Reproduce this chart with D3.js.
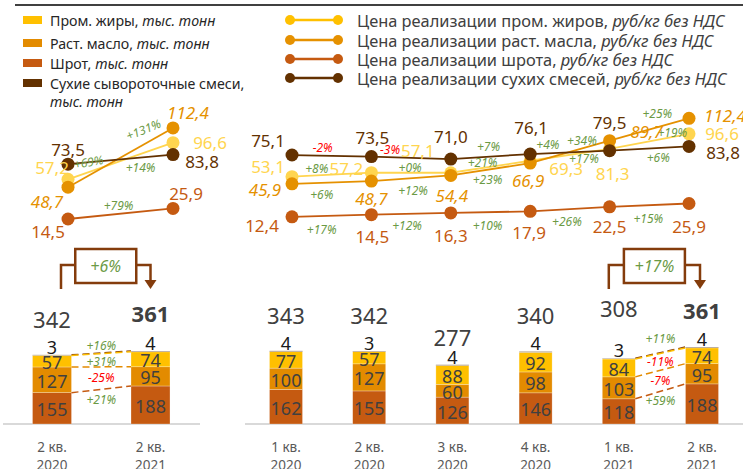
<!DOCTYPE html>
<html>
<head>
<meta charset="utf-8">
<script src="https://cdn.jsdelivr.net/npm/d3@7"></script>
<style>
  body { margin: 0; background: #fff; }
  svg { display: block; font-family: "Noto Sans", "Open Sans", sans-serif; }
</style>
</head>
<body>
<svg id="chart" width="743" height="469"></svg>
<script>
// --- data ---
const quarters = ['1 кв.|2020', '2 кв.|2020', '3 кв.|2020', '4 кв.|2020', '1 кв.|2021', '2 кв.|2021']
const compareIdx = [1, 5]   // 2 кв. 2020 vs 2 кв. 2021

const volShrot = [162, 155, 126, 146, 118, 188]
const volMaslo = [100, 127, 60, 98, 103, 95]
const volZhiry = [77, 57, 88, 92, 84, 74]
const volSmesi = [4, 3, 4, 4, 3, 4]
const volTotal = [343, 342, 277, 340, 308, 361]

const priceZhiry = [53.1, 57.2, 57.1, 69.3, 81.3, 96.6]
const priceMaslo = [45.9, 48.7, 54.4, 66.9, 89.7, 112.4]
const priceShrot = [12.4, 14.5, 16.3, 17.9, 22.5, 25.9]
const priceSmesi = [75.1, 73.5, 71.0, 76.1, 79.5, 83.8]

const chgZhiry = ['+8%', '+0%', '+21%', '+17%', '+19%']
const chgMaslo = ['+6%', '+12%', '+23%', '+34%', '+25%']
const chgShrot = ['+17%', '+12%', '+10%', '+26%', '+15%']
const chgSmesi = ['-2%', '-3%', '+7%', '+4%', '+6%']

const yoyPrice = { zhiry: '+69%', maslo: '+131%', shrot: '+79%', smesi: '+14%' }
const yoyVolLeft = ['+16%', '+31%', '-25%', '+21%']   // smesi, zhiry, maslo, shrot
const qoqVolRight = ['+11%', '-11%', '-7%', '+59%']
const totalChgLeft = '+6%'
const totalChgRight = '+17%'

const legendVol = ['Пром. жиры', 'Раст. масло', 'Шрот', 'Сухие сывороточные смеси,']
const legendPrice = ['Цена реализации пром. жиров, ', 'Цена реализации раст. масла, ',
  'Цена реализации шрота, ', 'Цена реализации сухих смесей, ']

// --- style ---
const GREEN = '#6B9A45', RED = '#FF0000', TXT = '#404040'
const colBar = { zhiry: '#FFC000', maslo: '#E38B00', shrot: '#C55A11', smesi: '#8B7358' }
const colLine = { zhiry: '#FFD54F', maslo: '#E59100', shrot: '#C55A11', smesi: '#633100' }
const colLegendLine = ['#FFC000', '#E59100', '#C55A11', '#633100']
const fmt = v => v.toFixed(1).replace('.', ',')

const svg = d3.select('#chart')

// top rule
svg.append('line').attr('x1', 15).attr('x2', 743).attr('y1', 5).attr('y2', 5)
  .attr('stroke', '#000').attr('stroke-width', 1.5)

// --- legends ---
const volColors = [colBar.zhiry, colBar.maslo, colBar.shrot, '#633100']
const legL = svg.append('g')
legendVol.forEach((name, i) => {
  const y = [20, 43, 63, 83][i]
  legL.append('rect').attr('x', 23).attr('y', y - 4).attr('width', 19).attr('height', 8).attr('fill', volColors[i])
  const t = legL.append('text').attr('x', 50).attr('y', y).attr('dominant-baseline', 'central')
    .attr('font-size', 14.2).attr('fill', '#262626')
  t.append('tspan').text(name + (i < 3 ? ', ' : ''))
  if (i < 3) t.append('tspan').attr('font-style', 'italic').text('тыс. тонн')
})
legL.append('text').attr('x', 50).attr('y', 101).attr('dominant-baseline', 'central')
  .attr('font-size', 14.2).attr('font-style', 'italic').attr('fill', '#262626').text('тыс. тонн')

const legR = svg.append('g')
legendPrice.forEach((name, i) => {
  const y = [20, 40, 59, 78][i]
  legR.append('line').attr('x1', 290).attr('x2', 338).attr('y1', y).attr('y2', y)
    .attr('stroke', colLegendLine[i]).attr('stroke-width', 2.5)
  ;[290, 338].forEach(cx => legR.append('circle').attr('cx', cx).attr('cy', y).attr('r', 5).attr('fill', colLegendLine[i]))
  const t = legR.append('text').attr('x', 357).attr('y', y).attr('dominant-baseline', 'central')
    .attr('font-size', 16.4).attr('fill', TXT)
  t.append('tspan').text(name)
  t.append('tspan').attr('font-style', 'italic').text('руб/кг без НДС')
})

// --- price lines ---
const seriesR = [
  { key: 'zhiry', v: priceZhiry, chg: chgZhiry, italic: false,
    lab: [[-24, -10], [-25, -4], [-33, -22], [36, 8], [3, 25], [33, 0]],
    chgOff: [[-15, -6], [-1, -5], [-8, -4], [14, 4], [23, -9]] },
  { key: 'maslo', v: priceMaslo, chg: chgMaslo, italic: true,
    lab: [[-27, 6], [0, 17], [1, 20], [-2, 17], [37, -9], [36, -3]],
    chgOff: [[-10, 12], [2, 12], [-3, 10], [12, -11], [8, -16]] },
  { key: 'shrot', v: priceShrot, chg: chgShrot, italic: false,
    lab: [[-30, 9], [1, 22], [0, 23], [-1, 21], [0, 20], [0, 23]],
    chgOff: [[-10, 14], [-4, 12], [-3, 13], [-3, 12], [-1, 13]] },
  { key: 'smesi', v: priceSmesi, chg: chgSmesi, italic: false,
    lab: [[-24, -15], [1, -19], [0, -23], [1, -27], [0, -28], [34, 6]],
    chgOff: [[-9, -8], [-21, -8], [-2, -10], [-22, -8], [9, 9]] }
]
const leftLab = {
  zhiry: { lab: [[-16, -12], [37, 0]], chg: [-32, 1], rot: -10 },
  maslo: { lab: [[-21, 14], [15, -15]], chg: [23, -28], rot: -22 },
  shrot: { lab: [[-20, 12], [13, -15]], chg: [-2, -8], rot: 0 },
  smesi: { lab: [[0, -15], [29, 7]], chg: [20, 8], rot: 0 }
}

const xR = d3.scalePoint().domain(quarters).range([292, 689])
const yR = d3.scaleLinear().domain([0, 120]).range([229, 110.8])
const xL = d3.scalePoint().domain(compareIdx.map(i => quarters[i])).range([68, 173])
const yL = d3.scaleLinear().domain([0, 120]).range([232.5, 120.9])

function drawLines(g, xs, ys, cats, vals, color) {
  const pts = vals.map((v, i) => [xs(cats[i]), ys(v)])
  g.append('path').attr('d', d3.line()(pts)).attr('fill', 'none')
    .attr('stroke', color).attr('stroke-width', 1.8)
  g.selectAll(null).data(pts).join('circle')
    .attr('cx', d => d[0]).attr('cy', d => d[1]).attr('r', 6.5).attr('fill', color)
  return pts
}

const gLines = svg.append('g')
const gLab = svg.append('g')
seriesR.forEach(s => {
  const pts = drawLines(gLines, xR, yR, quarters, s.v, colLine[s.key])
  pts.forEach((p, i) => {
    gLab.append('text').attr('x', p[0] + s.lab[i][0]).attr('y', p[1] + s.lab[i][1])
      .attr('text-anchor', 'middle').attr('dominant-baseline', 'central')
      .attr('font-size', 17).attr('font-style', s.italic ? 'italic' : null)
      .attr('fill', colLine[s.key]).text(fmt(s.v[i]))
  })
  s.chg.forEach((c, i) => {
    const mx = (pts[i][0] + pts[i + 1][0]) / 2, my = (pts[i][1] + pts[i + 1][1]) / 2
    gLab.append('text').attr('x', mx + s.chgOff[i][0]).attr('y', my + s.chgOff[i][1])
      .attr('text-anchor', 'middle').attr('dominant-baseline', 'central')
      .attr('font-size', 12).attr('font-style', 'italic').attr('fill', c[0] === '-' ? RED : GREEN).text(c)
  })

  // left comparison chart
  const L = leftLab[s.key]
  const vals = compareIdx.map(i => s.v[i])
  const cats = compareIdx.map(i => quarters[i])
  const lp = drawLines(gLines, xL, yL, cats, vals, colLine[s.key])
  lp.forEach((p, i) => {
    gLab.append('text').attr('x', p[0] + L.lab[i][0]).attr('y', p[1] + L.lab[i][1])
      .attr('text-anchor', 'middle').attr('dominant-baseline', 'central')
      .attr('font-size', 17).attr('font-style', s.italic ? 'italic' : null)
      .attr('fill', colLine[s.key]).text(fmt(vals[i]))
  })
  const mx = (lp[0][0] + lp[1][0]) / 2 + L.chg[0], my = (lp[0][1] + lp[1][1]) / 2 + L.chg[1]
  gLab.append('text').attr('transform', `translate(${mx},${my}) rotate(${L.rot})`)
    .attr('text-anchor', 'middle').attr('dominant-baseline', 'central')
    .attr('font-size', 12).attr('font-style', 'italic').attr('fill', GREEN).text(yoyPrice[s.key])
})
// keep line labels above markers
gLab.raise()

// --- volume bars ---
const stackKeys = ['shrot', 'maslo', 'zhiry', 'smesi']
const volTable = quarters.map((q, i) => ({
  q, shrot: volShrot[i], maslo: volMaslo[i], zhiry: volZhiry[i], smesi: volSmesi[i], total: volTotal[i]
}))
const stack = d3.stack().keys(stackKeys)

function drawBars(g, rows, xb, yb, totalDy) {
  const layers = stack(rows)
  layers.forEach(layer => {
    g.selectAll(null).data(layer).join('rect')
      .attr('x', d => xb(d.data.q)).attr('width', xb.bandwidth())
      .attr('y', d => yb(d[1])).attr('height', d => yb(d[0]) - yb(d[1]))
      .attr('fill', colBar[layer.key]).attr('stroke', 'rgba(255,255,255,0.45)').attr('stroke-width', 0.6)
    if (layer.key !== 'smesi') {
      g.selectAll(null).data(layer).join('text')
        .attr('x', d => xb(d.data.q) + xb.bandwidth() / 2).attr('y', d => (yb(d[0]) + yb(d[1])) / 2 + 1)
        .attr('text-anchor', 'middle').attr('dominant-baseline', 'central')
        .attr('font-size', 18).attr('fill', TXT).text(d => d.data[layer.key])
    }
  })
  const top = layers[3]
  g.selectAll(null).data(top).join('text')
    .attr('x', d => xb(d.data.q) + xb.bandwidth() / 2).attr('y', d => yb(d[1]) - 8)
    .attr('text-anchor', 'middle').attr('dominant-baseline', 'central')
    .attr('font-size', 18).attr('fill', '#1a1a1a').text(d => d.data.smesi)
  g.selectAll(null).data(rows).join('text')
    .attr('x', d => xb(d.q) + xb.bandwidth() / 2).attr('y', (d, i) => yb(d.total) + totalDy[i])
    .attr('text-anchor', 'middle').attr('dominant-baseline', 'central')
    .attr('font-size', 22).attr('font-weight', d => d.q === quarters[5] ? 'bold' : null)
    .attr('fill', TXT).text(d => d.total)
  // category labels
  rows.forEach(d => {
    const [a, b] = d.q.split('|')
    const cx = xb(d.q) + xb.bandwidth() / 2
    g.append('text').attr('x', cx).attr('y', 447).attr('text-anchor', 'middle').attr('dominant-baseline', 'central')
      .attr('font-size', 13.5).attr('fill', '#595959').text(a)
    g.append('text').attr('x', cx).attr('y', 465).attr('text-anchor', 'middle').attr('dominant-baseline', 'central')
      .attr('font-size', 13.5).attr('fill', '#595959').text(b)
  })
  return layers
}

function drawConnectors(g, layers, xb, yb, iFrom, iTo, labels, dys) {
  const order = ['smesi', 'zhiry', 'maslo', 'shrot']
  const dashCol = { smesi: '#843C0C', zhiry: '#FFC000', maslo: '#E38B00', shrot: '#C55A11' }
  const x1 = xb(quarters[iFrom]) + xb.bandwidth(), x2 = xb(quarters[iTo])
  order.forEach((k, j) => {
    const layer = layers[stackKeys.indexOf(k)]
    const a = layer.find(d => d.data.q === quarters[iFrom]), b = layer.find(d => d.data.q === quarters[iTo])
    const y1 = yb(a[1]), y2 = yb(b[1])
    g.append('line').attr('x1', x1).attr('x2', x2).attr('y1', y1).attr('y2', y2)
      .attr('stroke', dashCol[k]).attr('stroke-width', 1.5).attr('stroke-dasharray', '7,4')
    g.append('text').attr('x', (x1 + x2) / 2).attr('y', (y1 + y2) / 2 + dys[j])
      .attr('text-anchor', 'middle').attr('dominant-baseline', 'central')
      .attr('font-size', 12).attr('font-style', 'italic')
      .attr('fill', labels[j][0] === '-' ? RED : GREEN).text(labels[j])
  })
}

function drawBracket(g, xa, xb2, label) {
  const col = '#843C0C', cx = (xa + xb2) / 2, bw = 61
  g.append('path').attr('d', `M${xa},289 V265 H${cx - bw / 2} M${cx + bw / 2},265 H${xb2} V281`)
    .attr('fill', 'none').attr('stroke', col).attr('stroke-width', 2.5)
  g.append('path').attr('d', `M${xb2 - 6},280 L${xb2 + 6},280 L${xb2},289 Z`).attr('fill', col)
  g.append('rect').attr('x', cx - bw / 2).attr('y', 249).attr('width', bw).attr('height', 34)
    .attr('fill', '#fff').attr('stroke', col).attr('stroke-width', 2.5)
  g.append('text').attr('x', cx).attr('y', 266).attr('text-anchor', 'middle').attr('dominant-baseline', 'central')
    .attr('font-size', 16).attr('font-style', 'italic').attr('fill', GREEN).text(label)
}

// right bars
const xbR = d3.scaleBand().domain(quarters).range([244.4, 743.6]).paddingInner(0.603).paddingOuter(0.3015)
const ybR = d3.scaleLinear().domain([0, 361]).range([424, 347])
const gBarR = svg.append('g')
gBarR.append('line').attr('x1', 245).attr('x2', 743).attr('y1', 424).attr('y2', 424)
  .attr('stroke', '#D9D9D9').attr('stroke-width', 2)
const layersR = drawBars(gBarR, volTable, xbR, ybR, [-36, -36, -28, -36, -50, -37])
drawConnectors(gBarR, layersR, xbR, ybR, 4, 5, qoqVolRight, [-14, 8, 10, 9])
drawBracket(gBarR, xbR(quarters[4]) + xbR.bandwidth() / 2 - 10, xbR(quarters[5]) + xbR.bandwidth() / 2 - 2, totalChgRight)

// left bars
const rowsL = compareIdx.map(i => volTable[i])
const xbL = d3.scaleBand().domain(rowsL.map(d => d.q)).range([2.75, 199.75]).paddingInner(0.604).paddingOuter(0.302)
const ybL = d3.scaleLinear().domain([0, 361]).range([424, 351])
const gBarL = svg.append('g')
gBarL.append('line').attr('x1', 3).attr('x2', 200).attr('y1', 424).attr('y2', 424)
  .attr('stroke', '#D9D9D9').attr('stroke-width', 2)
const layersL = drawBars(gBarL, rowsL, xbL, ybL, [-36, -38])
drawConnectors(gBarL, layersL, xbL, ybL, 1, 5, yoyVolLeft, [-7, 8, 11, 10])
drawBracket(gBarL, xbL(quarters[1]) + xbL.bandwidth() / 2 + 9, xbL(quarters[5]) + xbL.bandwidth() / 2, totalChgLeft)
</script>
</body>
</html>
